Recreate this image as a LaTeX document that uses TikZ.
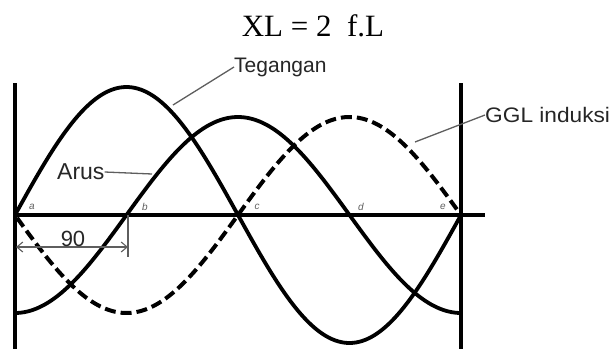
\documentclass[tikz,border=0pt]{standalone}
\usepackage{fontspec}
\setmainfont{Liberation Serif}
\newfontfamily\arialf{Liberation Sans}
\usetikzlibrary{arrows.meta}
\definecolor{lblgray}{HTML}{262626}
\definecolor{leadgray}{HTML}{5E5E5E}
\tikzset{
  axisline/.style={line width=4pt, black},
  wave/.style={line width=3.8pt, black},
  dashwave/.style={line width=4pt, black, dash pattern=on 11pt off 5pt},
  leader/.style={line width=1.3pt, leadgray},
  lbl/.style={font=\arialf\fontsize{21}{21}\selectfont, text=lblgray, inner sep=0pt},
  ptlbl/.style={font=\arialf\itshape\fontsize{10}{10}\selectfont, text=leadgray, inner sep=0pt},
  dim/.style={line width=1.1pt, leadgray},
}
\begin{document}
\begin{tikzpicture}[x=1pt,y=-1pt]
\useasboundingbox (0,0) rectangle (616,349);
% title
\node[font=\fontsize{31}{31}\selectfont, inner sep=0pt] (title) at (313,26) {XL = 2\ \ f.L};
% points on axis
\coordinate (a) at (15,215);
\coordinate (b) at (126.5,215);
\coordinate (c) at (238,215);
\coordinate (d) at (349.5,215);
\coordinate (e) at (461,215);
% axes
\coordinate (ltop) at (15,83);
\coordinate (lbot) at (15,349);
\coordinate (rtop) at (461,83);
\coordinate (rbot) at (461,349);
\coordinate (xend) at (485,215);
\draw[axisline] (ltop) -- (lbot);
\draw[axisline] (rtop) -- (rbot);
\draw[axisline] (a) -- (xend);
% waves
\draw[wave] plot[domain=15:461,samples=150] (\x,{215-128*sin((\x-15)/223*180)});
\draw[wave] plot[domain=15:461,samples=150] (\x,{215+98*cos((\x-15)/223*180)});
\draw[dashwave] plot[domain=17:461,samples=150] (\x,{215+98*sin((\x-15)/223*180)});
% point labels
\node[ptlbl] (la) at (32,207) {a};
\node[ptlbl] (lb) at (145,207) {b};
\node[ptlbl] (lc) at (257,207) {c};
\node[ptlbl] (ld) at (361,207) {d};
\node[ptlbl] (le) at (443,207) {e};
% labels
\node[lbl, anchor=west] (teg) at (234,67) {Tegangan};
\coordinate (tegc) at (173,105);
\draw[leader] (teg.west) -- (tegc);
\node[lbl, anchor=west, font=\arialf\fontsize{23}{23}\selectfont] (arus) at (57,172) {Arus};
\coordinate (arusc) at (152,174);
\draw[leader] (arus.east) -- (arusc);
\node[lbl, anchor=west, xscale=1.08] (ggl) at (485,115) {GGL induksi};
\coordinate (gglc) at (415,142);
\draw[leader] (ggl.west) -- (gglc);
% 90 degree dimension
\coordinate (dimL) at (16,247);
\coordinate (dimR) at (128,247);
\coordinate (tickT) at (128,215);
\coordinate (tickB) at (128,257);
\draw[dim] (tickT) -- (tickB);
\draw[dim, {Straight Barb[length=6pt,width=10pt]}-{Straight Barb[length=6pt,width=10pt]}] (dimL) -- (dimR);
\node[font=\arialf\fontsize{22}{22}\selectfont, text=lblgray, inner sep=0pt, anchor=base] (ninety) at (73,246) {90};
\end{tikzpicture}
\end{document}
